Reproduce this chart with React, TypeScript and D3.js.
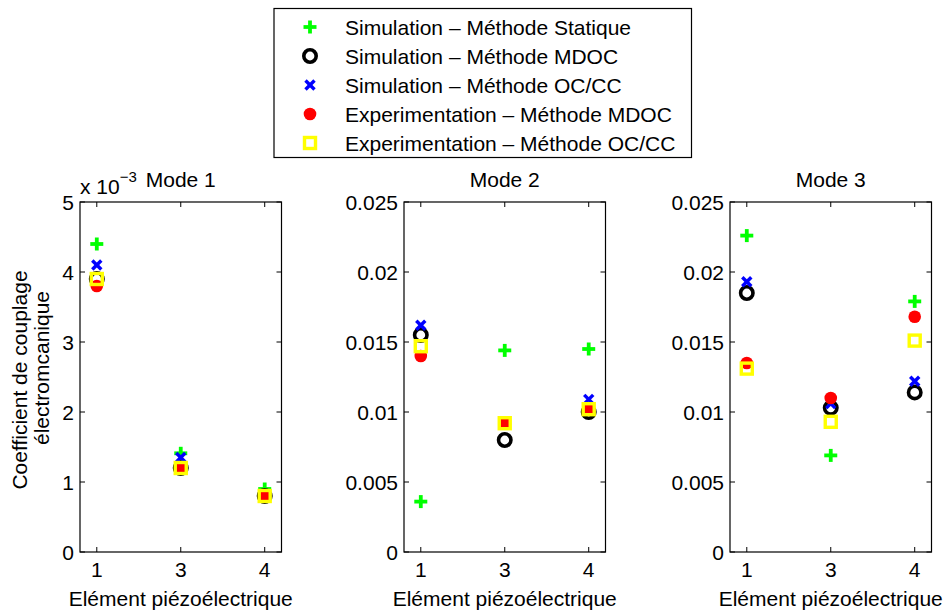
import React from "react";
import * as d3 from "d3";

const categories = ["1", "3", "4"];
const seriesNames = [
  "Simulation – Méthode Statique",
  "Simulation – Méthode MDOC",
  "Simulation – Méthode OC/CC",
  "Experimentation – Méthode MDOC",
  "Experimentation – Méthode OC/CC",
];
// Mode 1
const mode1Static = [0.0044, 0.00141, 0.0009];
const mode1MDOC = [0.0039, 0.0012, 0.0008];
const mode1OCCC = [0.0041, 0.00135, 0.00082];
const mode1ExpMDOC = [0.0038, 0.0012, 0.0008];
const mode1ExpOCCC = [0.0039, 0.0012, 0.0008];
// Mode 2
const mode2Static = [0.0036, 0.0144, 0.0145];
const mode2MDOC = [0.0155, 0.008, 0.01];
const mode2OCCC = [0.0162, 0.0093, 0.0109];
const mode2ExpMDOC = [0.014, 0.0092, 0.0102];
const mode2ExpOCCC = [0.0147, 0.0092, 0.0102];
// Mode 3
const mode3Static = [0.0226, 0.0069, 0.0179];
const mode3MDOC = [0.0185, 0.0103, 0.0114];
const mode3OCCC = [0.0193, 0.0106, 0.0122];
const mode3ExpMDOC = [0.0135, 0.011, 0.0168];
const mode3ExpOCCC = [0.0131, 0.0093, 0.0151];

const ticks1 = [0, 0.001, 0.002, 0.003, 0.004, 0.005];
const ticks1Labels = ["0", "1", "2", "3", "4", "5"];
const ticks23 = [0, 0.005, 0.01, 0.015, 0.02, 0.025];
const ticks23Labels = ["0", "0.005", "0.01", "0.015", "0.02", "0.025"];

const titles = ["Mode 1", "Mode 2", "Mode 3"];

const FONT = "'Liberation Sans', Arial, Helvetica, sans-serif";
const FS = 21;

type MarkerKind = "plus" | "circle" | "cross" | "dot" | "square";
const kinds: MarkerKind[] = ["plus", "circle", "cross", "dot", "square"];

function Marker({ kind, x, y }: { kind: MarkerKind; x: number; y: number }) {
  switch (kind) {
    case "plus":
      return (
        <g stroke="#00ff00" strokeWidth={3.8}>
          <line x1={x - 6.5} x2={x + 6.5} y1={y} y2={y} />
          <line x1={x} x2={x} y1={y - 6.5} y2={y + 6.5} />
        </g>
      );
    case "circle":
      return <circle cx={x} cy={y} r={6.2} fill="none" stroke="#000" strokeWidth={3.6} />;
    case "cross":
      return (
        <g stroke="#0000ff" strokeWidth={3.4}>
          <line x1={x - 4.5} x2={x + 4.5} y1={y - 4.5} y2={y + 4.5} />
          <line x1={x - 4.5} x2={x + 4.5} y1={y + 4.5} y2={y - 4.5} />
        </g>
      );
    case "dot":
      return <circle cx={x} cy={y} r={6.3} fill="#ff0000" />;
    case "square":
      return <rect x={x - 5.5} y={y - 5.5} width={11} height={11} fill="none" stroke="#ffff00" strokeWidth={3.4} />;
  }
}

type Panel = {
  left: number;
  right: number;
  ymax: number;
  ticks: number[];
  tickLabels: string[];
  series: number[][];
  title: string;
};

const panels: Panel[] = [
  { left: 80, right: 281.5, ymax: 0.005, ticks: ticks1, tickLabels: ticks1Labels, series: [mode1Static, mode1MDOC, mode1OCCC, mode1ExpMDOC, mode1ExpOCCC], title: titles[0] },
  { left: 404, right: 605.5, ymax: 0.025, ticks: ticks23, tickLabels: ticks23Labels, series: [mode2Static, mode2MDOC, mode2OCCC, mode2ExpMDOC, mode2ExpOCCC], title: titles[1] },
  { left: 730, right: 931.5, ymax: 0.025, ticks: ticks23, tickLabels: ticks23Labels, series: [mode3Static, mode3MDOC, mode3OCCC, mode3ExpMDOC, mode3ExpOCCC], title: titles[2] },
];

const TOP = 202;
const BOTTOM = 552;

function PanelView({ p, idx }: { p: Panel; idx: number }) {
  const x = d3.scaleLinear().domain([0.8, 3.2]).range([p.left, p.right]);
  const y = d3.scaleLinear().domain([0, p.ymax]).range([BOTTOM, TOP]);
  const cx = (p.left + p.right) / 2;
  return (
    <g>
      <rect x={p.left} y={TOP} width={p.right - p.left} height={BOTTOM - TOP} fill="#fff" stroke="#000" strokeWidth={1.2} />
      {p.ticks.map((t, i) => (
        <g key={"y" + i}>
          <line x1={p.left} x2={p.left + 5} y1={y(t)} y2={y(t)} stroke="#000" />
          <line x1={p.right} x2={p.right - 5} y1={y(t)} y2={y(t)} stroke="#000" />
          <text x={p.left - 6} y={y(t) + 7.5} textAnchor="end" fontSize={FS} fontFamily={FONT}>
            {p.tickLabels[i]}
          </text>
        </g>
      ))}
      {categories.map((c, i) => (
        <g key={"x" + i}>
          <line x1={x(i + 1)} x2={x(i + 1)} y1={BOTTOM} y2={BOTTOM - 5} stroke="#000" />
          <line x1={x(i + 1)} x2={x(i + 1)} y1={TOP} y2={TOP + 5} stroke="#000" />
          <text x={x(i + 1)} y={577} textAnchor="middle" fontSize={FS} fontFamily={FONT}>
            {c}
          </text>
        </g>
      ))}
      {p.series.map((s, si) =>
        s.map((v, i) => <Marker key={si + "-" + i} kind={kinds[si]} x={x(i + 1)} y={y(v)} />)
      )}
      <text x={cx} y={187} textAnchor="middle" fontSize={FS} fontFamily={FONT}>
        {p.title}
      </text>
      <text x={cx} y={606} textAnchor="middle" fontSize={FS} fontFamily={FONT}>
        Elément piézoélectrique
      </text>
      {idx === 0 && (
        <text x={80} y={194} fontSize={FS} fontFamily={FONT}>
          x 10
          <tspan dy={-12} fontSize={15}>−3</tspan>
        </text>
      )}
    </g>
  );
}

export default function App() {
  const legendY = d3.scaleLinear().domain([0, 4]).range([27, 143]);
  return (
    <div style={{ position: "absolute", left: 0, top: 0 }}>
      <svg width={943} height={611} style={{ display: "block", background: "#fff" }}>
        <rect width={943} height={611} fill="#fff" />
        {panels.map((p, i) => (
          <PanelView key={i} p={p} idx={i} />
        ))}
        <text transform="translate(27,380) rotate(-90)" textAnchor="middle" fontSize={FS} fontFamily={FONT}>
          Coefficient de couplage
        </text>
        <text transform="translate(49,368) rotate(-90)" textAnchor="middle" fontSize={FS} fontFamily={FONT}>
          électromcanique
        </text>
        <rect x={274} y={8.5} width={417.5} height={149} fill="#fff" stroke="#000" strokeWidth={1.2} />
        {seriesNames.map((n, i) => (
          <g key={n}>
            <Marker kind={kinds[i]} x={310} y={legendY(i)} />
            <text x={345} y={legendY(i) + 7.5} fontSize={FS} fontFamily={FONT}>
              {n}
            </text>
          </g>
        ))}
      </svg>
    </div>
  );
}
